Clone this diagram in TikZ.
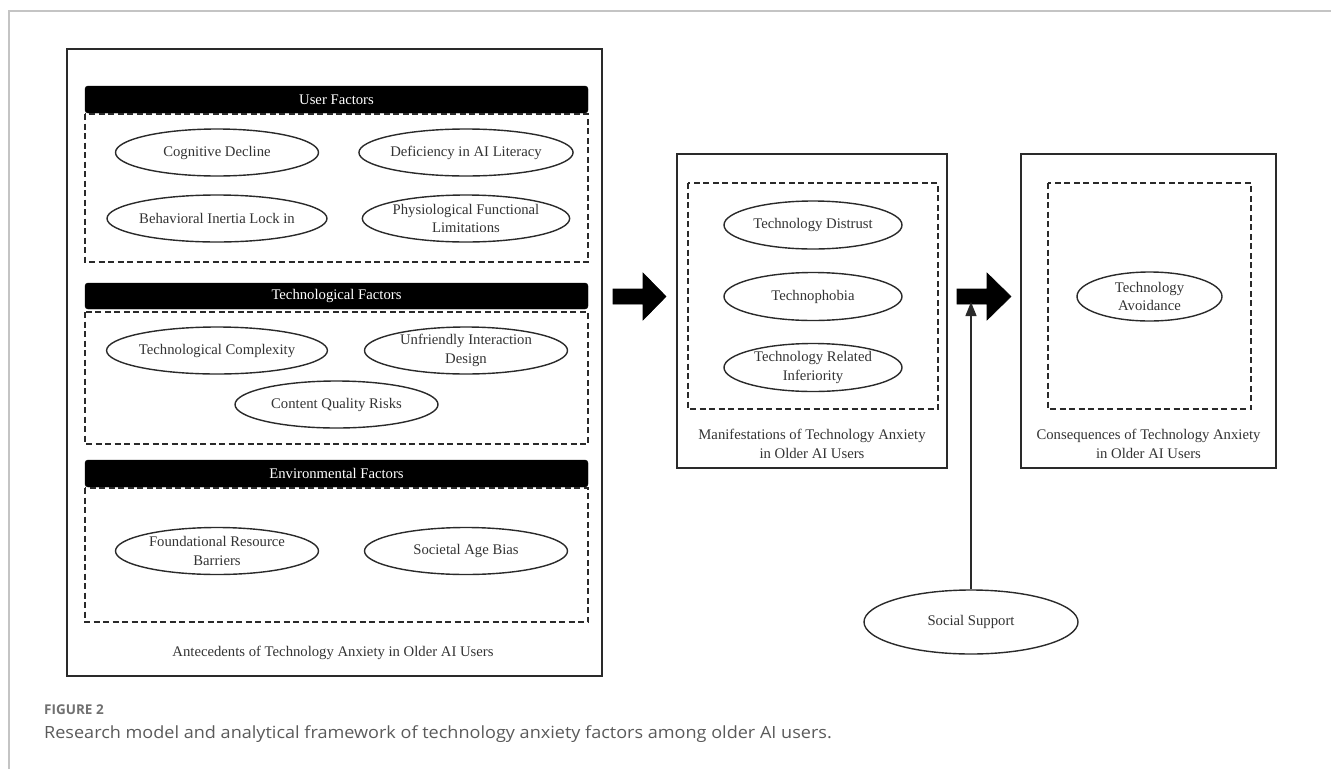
\documentclass[tikz,border=0pt]{standalone}
\usepackage{fontspec}
\setmainfont{Liberation Serif}
\newfontfamily\capfont[FakeStretch=1.075]{Open Sans}
\newfontfamily\figfont{Open Sans}
\usetikzlibrary{shapes.geometric,arrows.meta}
\definecolor{ln}{HTML}{2A2A2A}
\definecolor{tx}{HTML}{333333}
\definecolor{frame}{HTML}{C4C4C4}
\definecolor{capgray}{HTML}{5A5A5A}
\definecolor{figgray}{HTML}{707070}
\tikzset{
  oval/.style={draw=ln, line width=1.4pt, ellipse, inner sep=0pt, minimum width=203pt, minimum height=47pt, align=center, text=tx, font=\fontsize{14.7}{18.5}\selectfont},
  panel/.style={draw=ln, line width=1.4pt},
  dbox/.style={draw=ln, line width=1.4pt, dash pattern=on 6pt off 3.5pt},
  hdr/.style={fill=black, draw=black, rounded corners=3pt},
  hdrtext/.style={text=white, font=\fontsize{14.7}{18}\selectfont},
  lbl/.style={text=tx, align=center, font=\fontsize{14.7}{18.5}\selectfont},
  bigarrow/.style={fill=black, draw=black, line width=0.6pt, line join=miter}
}
\begin{document}
\begin{tikzpicture}[x=1pt,y=-1pt]
\useasboundingbox (0,0) rectangle (1331,769);
% page frame
\draw[frame, line width=1.6pt] (9,769) -- (9,11) -- (1331,11);

% ===== Antecedents panel
\draw[panel] (67,49) rectangle (602,676);
% User factors
\draw[hdr] (85,86) rectangle (588,113);
\node[hdrtext] (huser) at (336.5,99.5) {User Factors};
\draw[dbox] (85,114) rectangle (588,262);
\node[oval] (cog) at (217,152.5) {Cognitive Decline};
\node[oval] (defi) at (466,152.5) {Deficiency in AI Literacy};
\node[oval] (beh) at (217,218.5) {Behavioral Inertia Lock in};
\node[oval] (phys) at (466,218.5) {Physiological Functional\\Limitations};
% Technological factors
\draw[hdr] (85,283) rectangle (588,309);
\node[hdrtext] (htech) at (336.5,296) {Technological Factors};
\draw[dbox] (85,312) rectangle (588,444);
\node[oval] (tcomp) at (217,350.5) {Technological Complexity};
\node[oval] (unfr) at (466,350.5) {Unfriendly Interaction\\Design};
\node[oval] (cont) at (336.5,404.5) {Content Quality Risks};
% Environmental factors
\draw[hdr] (85,460) rectangle (588,487);
\node[hdrtext] (henv) at (336.5,473.5) {Environmental Factors};
\draw[dbox] (85,488) rectangle (588,622);
\node[oval] (found) at (217,551) {Foundational Resource\\Barriers};
\node[oval] (soc) at (466,551) {Societal Age Bias};
\node[lbl] (antl) at (333,653) {Antecedents of Technology Anxiety in Older AI Users};

% ===== Manifestations panel
\draw[panel] (677,154) rectangle (947,468);
\draw[dbox] (688,183) rectangle (938,409);
\node[oval, minimum width=178pt, minimum height=48pt] (dist) at (813,225) {Technology Distrust};
\node[oval, minimum width=178pt, minimum height=48pt] (phob) at (813,296.5) {Technophobia};
\node[oval, minimum width=178pt, minimum height=48pt] (infe) at (813,367.5) {Technology Related\\Inferiority};
\node[lbl] (manl) at (812,444) {Manifestations of Technology Anxiety\\in Older AI Users};

% ===== Consequences panel
\draw[panel] (1021,154) rectangle (1276,468);
\draw[dbox] (1048,183) rectangle (1251,409);
\node[oval, minimum width=145pt, minimum height=49pt] (avoid) at (1149.5,296.5) {Technology\\Avoidance};
\node[lbl] (conl) at (1148.5,444) {Consequences of Technology Anxiety\\in Older AI Users};

% ===== big arrows
\coordinate (a1s) at (613,296.5);
\coordinate (a2s) at (957,296.5);
\fill[bigarrow] (a1s) ++(0,-7.5) -- ++(30,0) -- ++(0,-16) -- ++(23,23.5) -- ++(-23,23.5) -- ++(0,-16) -- ++(-30,0) -- cycle;
\fill[bigarrow] (a2s) ++(0,-7.5) -- ++(30,0) -- ++(0,-16) -- ++(24,23.5) -- ++(-24,23.5) -- ++(0,-16) -- ++(-30,0) -- cycle;

% ===== Social support
\node[oval, minimum width=214pt, minimum height=64pt] (ss) at (971,622) {Social Support};
\coordinate (sstip) at (971,302);
\draw[ln, line width=1.4pt, -{Triangle[width=11pt,length=14pt]}] (ss.north) -- (sstip);

% ===== caption
\node[anchor=base west, inner sep=0pt, text=figgray, font=\figfont\fontsize{13.5}{16}\selectfont\bfseries] (figl) at (44,714) {FIGURE 2};
\node[anchor=base west, inner sep=0pt, text=capgray, font=\capfont\fontsize{16.8}{20}\selectfont] (capt) at (44,738) {Research model and analytical framework of technology anxiety factors among older AI users.};
\end{tikzpicture}
\end{document}
